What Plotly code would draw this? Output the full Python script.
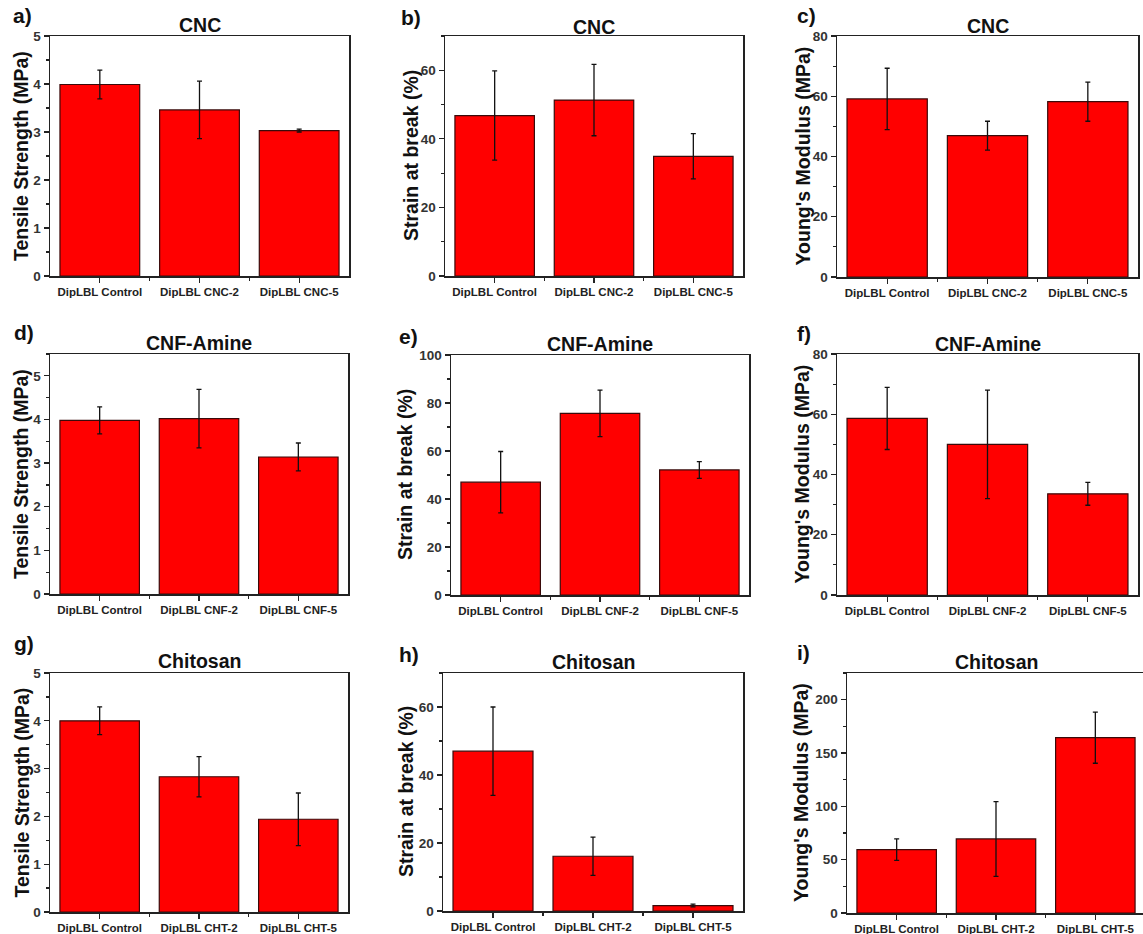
import plotly.graph_objects as go

W, H = 1143, 934

labels_cnc = ["DipLBL Control", "DipLBL CNC-2", "DipLBL CNC-5"]
labels_cnf = ["DipLBL Control", "DipLBL CNF-2", "DipLBL CNF-5"]
labels_cht = ["DipLBL Control", "DipLBL CHT-2", "DipLBL CHT-5"]

cnc_ts = [3.99, 3.46, 3.03]
cnc_ts_err = [0.30, 0.60, 0.03]
cnc_sb = [46.8, 51.3, 34.9]
cnc_sb_err = [13.0, 10.4, 6.6]
cnc_ym = [59.1, 46.9, 58.2]
cnc_ym_err = [10.2, 4.8, 6.5]

cnf_ts = [3.98, 4.02, 3.14]
cnf_ts_err = [0.31, 0.67, 0.32]
cnf_sb = [47.0, 75.7, 52.1]
cnf_sb_err = [12.8, 9.7, 3.5]
cnf_ym = [58.6, 50.0, 33.6]
cnf_ym_err = [10.3, 18.0, 3.8]

cht_ts = [4.0, 2.83, 1.94]
cht_ts_err = [0.29, 0.42, 0.55]
cht_sb = [47.0, 16.1, 1.6]
cht_sb_err = [13.0, 5.6, 0.4]
cht_ym = [59.4, 69.4, 164.4]
cht_ym_err = [10.0, 35.0, 24.0]

positions = [1, 2, 3]

# letter, title, labels, values, errors, y title, yrange, dtick, minor,
# plot box px (l, r, top, bottom), ytitle x, letter (x, y), title y
panels = [
    ("a)", "CNC", labels_cnc, cnc_ts, cnc_ts_err, "Tensile Strength (MPa)", [0, 5], 1, 0.5, (50, 349, 36, 276), 21, (11, 15), 25),
    ("b)", "CNC", labels_cnc, cnc_sb, cnc_sb_err, "Strain at break (%)", [0, 70], 20, 10, (445, 743, 36, 276), 411, (399, 17), 27),
    ("c)", "CNC", labels_cnc, cnc_ym, cnc_ym_err, "Young's Modulus (MPa)", [0, 80], 20, 10, (837, 1138, 36, 277), 802, (795, 15), 26),
    ("d)", "CNF-Amine", labels_cnf, cnf_ts, cnf_ts_err, "Tensile Strength (MPa)", [0, 5.5], 1, 0.5, (50, 348, 354, 594), 21, (12, 332), 343),
    ("e)", "CNF-Amine", labels_cnf, cnf_sb, cnf_sb_err, "Strain at break (%)", [0, 100], 20, 10, (451, 749, 355, 595), 405, (397, 336), 344),
    ("f)", "CNF-Amine", labels_cnf, cnf_ym, cnf_ym_err, "Young's Modulus (MPa)", [0, 80], 20, 10, (837, 1138, 354, 595), 802, (795, 333), 344),
    ("g)", "Chitosan", labels_cht, cht_ts, cht_ts_err, "Tensile Strength (MPa)", [0, 5], 1, 0.5, (50, 348, 673, 912), 21, (12, 643), 661),
    ("h)", "Chitosan", labels_cht, cht_sb, cht_sb_err, "Strain at break (%)", [0, 70], 20, 10, (443, 743, 673, 911), 406, (397, 654), 662),
    ("i)", "Chitosan", labels_cht, cht_ym, cht_ym_err, "Young's Modulus (MPa)", [0, 225], 50, 25, (847, 1145, 673, 913), 801, (795, 652), 662),
]

FONT = "Arial, Liberation Sans, sans-serif"
fig = go.Figure()
annotations = []


def px_x(v):
    return v / W


def px_y(v):
    return 1 - v / H


for i, (letter, title, labels, vals, errs, ytitle, yr, dt, mn, box, ytx, lpos, ty) in enumerate(panels):
    n = i + 1
    xa = "x" if n == 1 else f"x{n}"
    ya = "y" if n == 1 else f"y{n}"
    fig.add_trace(go.Bar(
        x=positions, y=vals, width=0.8,
        marker=dict(color="#ff0000", line=dict(color="#3a0a0a", width=1.2)),
        error_y=dict(type="data", array=errs, visible=True, color="#111111", thickness=1.3, width=2.5),
        xaxis=xa, yaxis=ya, showlegend=False, hoverinfo="skip",
        cliponaxis=False,
    ))
    l, r, t, b = box
    xkey = "xaxis" if n == 1 else f"xaxis{n}"
    ykey = "yaxis" if n == 1 else f"yaxis{n}"
    fig.layout[xkey] = dict(
        domain=[px_x(l), min(px_x(r), 1.0)] if r <= W else [px_x(l), 1.0],
        anchor=ya, automargin=False,
        range=[0.5, 3.5] if r <= W else [0.5, 0.5 + 3.0 * (W - l) / (r - l)],
        tickmode="array", tickvals=positions, ticktext=labels,
        ticks="outside", ticklen=5, tickwidth=1.2, tickcolor="#222",
        minor=dict(tickmode="array", tickvals=[1.5, 2.5], ticks="outside", ticklen=3, tickcolor="#222"),
        showline=True, linecolor="#222", linewidth=1.5, mirror=True,
        showgrid=False, zeroline=False, fixedrange=True,
        tickfont=dict(family=FONT, size=11.5, color="#222", weight="bold"),
    )
    fig.layout[ykey] = dict(
        domain=[px_y(b), px_y(t)], anchor=xa, range=yr, automargin=False,
        dtick=dt, tick0=0,
        ticks="outside", ticklen=5, tickwidth=1.2, tickcolor="#222",
        minor=dict(dtick=mn, tick0=0, ticks="outside", ticklen=3, tickcolor="#222"),
        showline=True, linecolor="#222", linewidth=1.5, mirror=True,
        showgrid=False, zeroline=False, fixedrange=True,
        tickfont=dict(family=FONT, size=13.5, color="#333", weight="bold"),
    )
    annotations.append(dict(
        text=f"<b>{title}</b>", x=px_x((l + r) / 2), y=px_y(ty), xref="paper", yref="paper",
        xanchor="center", yanchor="middle", showarrow=False,
        font=dict(family=FONT, size=19.5, color="#111"),
    ))
    annotations.append(dict(
        text=f"<b>{letter}</b>", x=px_x(lpos[0]), y=px_y(lpos[1]),
        xref="paper", yref="paper", xanchor="left", yanchor="middle", showarrow=False,
        font=dict(family=FONT, size=21, color="#111"),
    ))
    annotations.append(dict(
        text=f"<b>{ytitle}</b>", x=px_x(ytx), y=px_y((t + b) / 2), xref="paper", yref="paper",
        xanchor="center", yanchor="middle", showarrow=False, textangle=-90,
        font=dict(family=FONT, size=19.5, color="#111"),
    ))

fig.update_layout(
    width=W, height=H,
    margin=dict(l=0, r=0, t=0, b=0, pad=0, autoexpand=False),
    paper_bgcolor="white", plot_bgcolor="white",
    annotations=annotations,
    bargap=0.2,
)

fig.write_html(
    "out.html",
    config={"displayModeBar": False, "staticPlot": True},
    post_script=(
        "document.documentElement.style.margin='0';document.body.style.margin='0';"
        "document.body.style.padding='0';document.documentElement.style.overflow='hidden';"
        "document.body.style.overflow='hidden';"
        "var gd=document.getElementById('{plot_id}');"
        "gd.style.position='absolute';gd.style.top='0px';gd.style.left='0px';"
    ),
)
